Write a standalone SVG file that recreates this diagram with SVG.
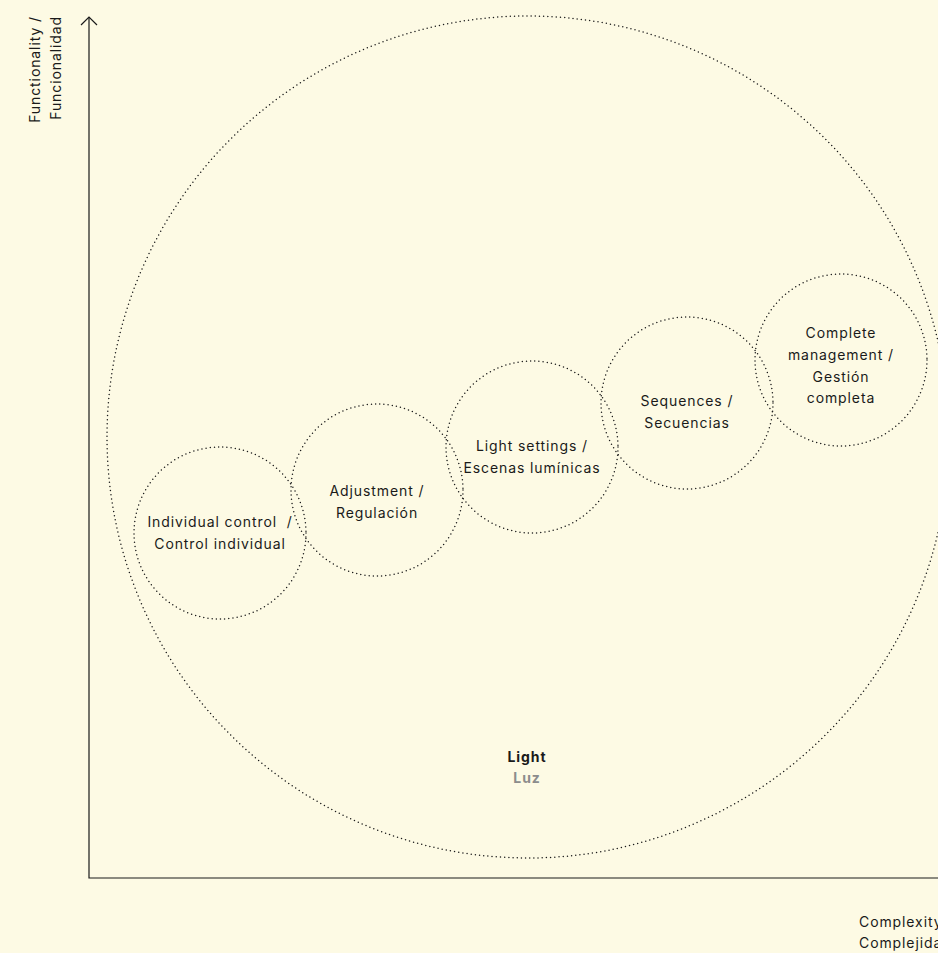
<svg xmlns="http://www.w3.org/2000/svg" width="938" height="953" viewBox="0 0 938 953">
<style>
.dot{fill:none;stroke:#1a1a1a;stroke-width:1.5;stroke-linecap:round;stroke-dasharray:0 4.2}
.t{font-family:Inter,"Liberation Sans",sans-serif;font-size:14px;letter-spacing:0.9px;fill:#1a1a1a;text-anchor:middle}
.ax{fill:none;stroke:#1a1a1a;stroke-width:1.2}
.gray{fill:#8c8c8c}
</style>
<rect width="938" height="953" fill="#FDFAE4"/>
<g id="axes">
<path class="ax" d="M89 17 V878 H938"/>
<path class="ax" d="M81 25 L89 17 L97 25"/>
</g>
<g id="labels">
<text class="t" style="text-anchor:end" transform="translate(40,16) rotate(-90)">Functionality /</text>
<text class="t" style="text-anchor:end" transform="translate(61,16) rotate(-90)">Funcionalidad</text>
<text class="t" style="text-anchor:start" x="859" y="927">Complexity /</text>
<text class="t" style="text-anchor:start" x="859" y="948">Complejidad</text>
</g>
<g id="light">
<circle class="dot" cx="528" cy="437" r="421"/>
<text class="t" x="527" y="762" font-weight="bold">Light</text>
<text class="t gray" x="527" y="783" font-weight="bold">Luz</text>
</g>
<g id="individual">
<circle class="dot" cx="220" cy="533" r="86"/>
<text class="t" x="220" y="527" xml:space="preserve">Individual control  /</text>
<text class="t" x="220" y="549">Control individual</text>
</g>
<g id="adjustment">
<circle class="dot" cx="377" cy="490" r="86"/>
<text class="t" x="377" y="496">Adjustment /</text>
<text class="t" x="377" y="518">Regulación</text>
</g>
<g id="settings">
<circle class="dot" cx="532" cy="447" r="86"/>
<text class="t" x="532" y="451">Light settings /</text>
<text class="t" x="532" y="473">Escenas lumínicas</text>
</g>
<g id="sequences">
<circle class="dot" cx="687" cy="403" r="86"/>
<text class="t" x="687" y="406">Sequences /</text>
<text class="t" x="687" y="428">Secuencias</text>
</g>
<g id="complete">
<circle class="dot" cx="841" cy="360" r="86"/>
<text class="t" x="841" y="338">Complete</text>
<text class="t" x="841" y="360">management /</text>
<text class="t" x="841" y="382">Gestión</text>
<text class="t" x="841" y="403">completa</text>
</g>
</svg>
